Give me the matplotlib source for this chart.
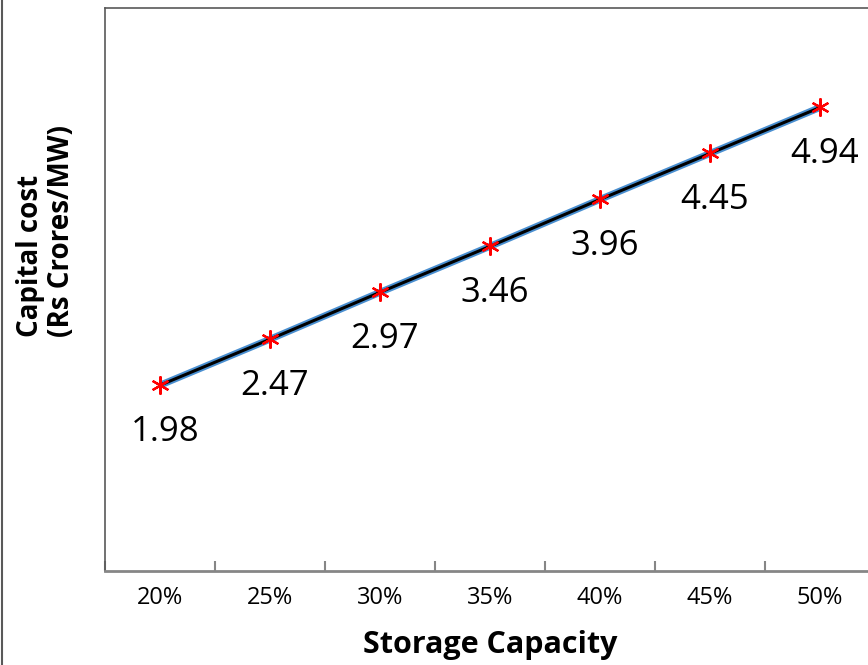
import matplotlib.pyplot as plt
from matplotlib.lines import Line2D

plt.rcParams['font.family'] = ['Open Sans', 'DejaVu Sans']

storage = ['20%', '25%', '30%', '35%', '40%', '45%', '50%']
capital_cost = [1.98, 2.47, 2.97, 3.46, 3.96, 4.45, 4.94]

W, H = 868, 665
fig = plt.figure(figsize=(W / 100, H / 100), dpi=100)
# plot area runs past the right edge of the figure
ax = fig.add_axes([105 / W, (H - 571) / H, 770 / W, 563 / H])

x = list(range(len(storage)))
ax.plot(x, capital_cost, color='#4A8FD0', lw=5, solid_capstyle='butt', zorder=2)
ax.plot(x, capital_cost, color='black', lw=2.2, zorder=3)
ax.plot(x, capital_cost, ls='none', marker=(6, 2, 0), ms=13, mec='red', mew=1.6, zorder=4)

for xi, v in zip(x, capital_cost):
    ax.annotate(f'{v:.2f}', (xi, v), xytext=(5, -47), textcoords='offset pixels',
                ha='center', va='center', fontsize=25)

ax.set_xlim(-0.5, len(storage) - 0.5)
ax.set_ylim(0, 6)
ax.set_yticks([])

# category boundaries get the ticks, labels sit between them
ax.set_xticks([i - 0.5 for i in range(len(storage) + 1)])
ax.set_xticklabels([])
ax.set_xticks(x, minor=True)
ax.set_xticklabels(storage, minor=True, fontsize=17)
ax.tick_params(axis='x', which='major', direction='in', length=7, width=1.5, color='#868686')
ax.tick_params(axis='x', which='minor', length=0, pad=11)

for side in ['top', 'left', 'right']:
    ax.spines[side].set_color('#595959')
    ax.spines[side].set_linewidth(1.2)
ax.spines['bottom'].set_color('#868686')
ax.spines['bottom'].set_linewidth(2)

ax.set_xlabel('Storage Capacity', fontsize=22, fontweight='bold', labelpad=14)
fig.text(46 / W, 1 - 337 / H, 'Capital cost\n(Rs Crores/MW)', rotation=90,
         ha='center', va='bottom', multialignment='left',
         fontsize=20, fontweight='bold', linespacing=1.1)

fig.add_artist(Line2D([1.5 / W, 1.5 / W], [0, 1], transform=fig.transFigure,
                      color='#595959', lw=1.5))

fig.savefig('out.png', dpi=100)
